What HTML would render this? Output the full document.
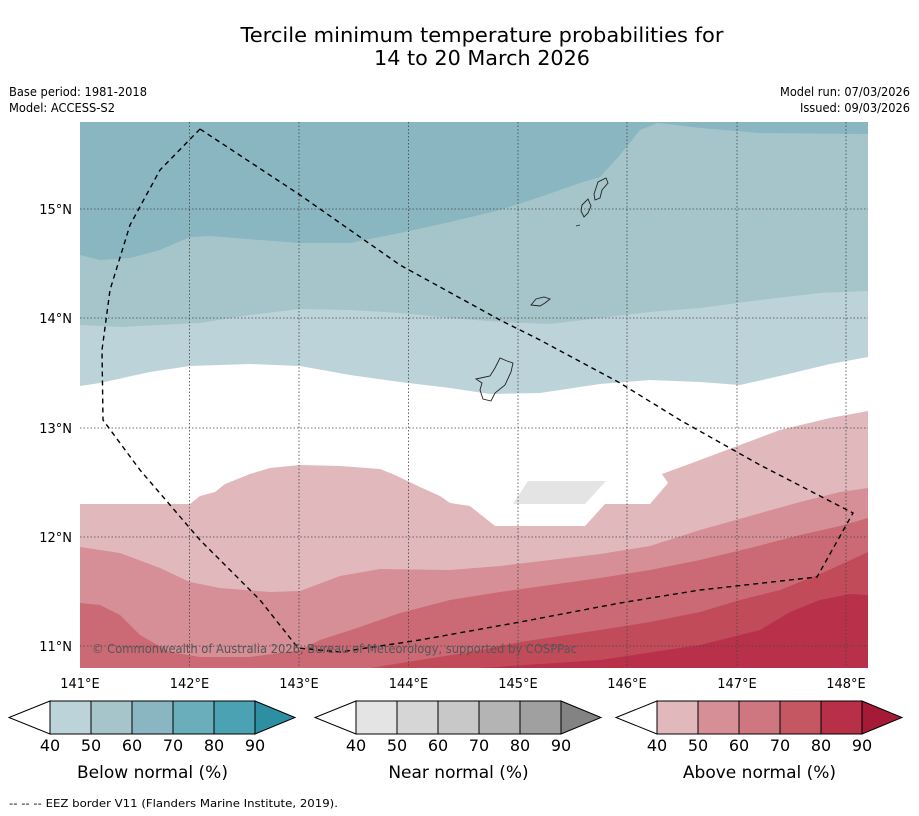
<!DOCTYPE html>
<html><head><meta charset="utf-8"><style>
body{margin:0;background:#fff;font-family:"DejaVu Sans","Liberation Sans",sans-serif}
svg{display:block}
</style></head><body>
<svg width="919" height="816" xmlns="http://www.w3.org/2000/svg">
<rect width="919" height="816" fill="#fff"/>
<text x="482" y="42" font-size="20" text-anchor="middle" textLength="483" lengthAdjust="spacingAndGlyphs">Tercile minimum temperature probabilities for</text>
<text x="482" y="65" font-size="20" text-anchor="middle" textLength="216" lengthAdjust="spacingAndGlyphs">14 to 20 March 2026</text>
<text x="9" y="96" font-size="12" textLength="138" lengthAdjust="spacingAndGlyphs">Base period: 1981-2018</text>
<text x="9" y="112" font-size="12" textLength="106" lengthAdjust="spacingAndGlyphs">Model: ACCESS-S2</text>
<text x="910" y="96" font-size="12" text-anchor="end" textLength="130" lengthAdjust="spacingAndGlyphs">Model run: 07/03/2026</text>
<text x="910" y="112" font-size="12" text-anchor="end" textLength="110" lengthAdjust="spacingAndGlyphs">Issued: 09/03/2026</text>
<defs><clipPath id="mc"><rect x="80" y="122" width="788" height="546"/></clipPath></defs>
<g clip-path="url(#mc)">
<rect x="80" y="122" width="788" height="546" fill="#fff"/>
<path fill="#bdd3da" d="M80,122 H868 V357 L830,364 780,376 740,385 700,382 650,380 600,384 540,393 490,394 450,388 400,382 350,375 300,366 250,364 190,366 150,372 100,383 80,386Z"/>
<path fill="#a6c5ca" d="M80,122 H868 V291 L820,293 760,300 700,308 650,312 600,318 550,324 500,322 450,318 400,313 350,310 300,309 250,315 200,323 120,327 80,325Z"/>
<path fill="#89b6c1" d="M80,122 H660 L640,130 620,155 600,177 580,183 540,197 500,210 450,222 400,233 350,243 300,243 260,240 210,236 190,237 160,250 130,258 100,260 80,255Z"/>
<path fill="#89b6c1" d="M650,122 H868 V134 L760,133 700,128Z"/>
<path fill="#e4e4e4" d="M513,504 L528,481 606,481 585,504Z"/>
<path fill="#e1b9bd" d="M80,504 L190,504 200,496 215,492 225,484 235,480 250,474 270,468 300,465 340,466 380,469 395,475 420,487 440,496 450,503 470,506 495,526 585,526 605,504 650,504 668,483 662,474 700,460 740,445 780,430 830,418 868,411 V668 H80Z"/>
<path fill="#d68f96" d="M80,547 L120,553 160,568 190,582 220,588 270,592 300,591 340,576 380,569 450,570 500,566 550,560 600,554 650,546 700,530 750,516 800,502 840,492 868,488 V668 H80Z"/>
<path fill="#cb6a75" d="M80,603 L100,605 120,615 140,635 170,652 200,657 250,657 300,650 320,640 360,627 400,613 450,600 500,592 550,585 600,578 650,570 700,560 750,548 800,535 840,526 868,518 V668 H80Z"/>
<path fill="#c24b5a" d="M370,668 L420,660 470,652 520,642 600,630 650,622 700,612 740,600 780,590 820,574 868,552 V668Z"/>
<path fill="#b8304a" d="M480,668 L600,660 700,645 760,630 790,612 820,600 850,594 868,595 V668Z"/>
<g stroke="#444" stroke-width="0.8" stroke-dasharray="1.5,2">
<line x1="189.5" y1="122" x2="189.5" y2="668"/><line x1="299" y1="122" x2="299" y2="668"/><line x1="408.5" y1="122" x2="408.5" y2="668"/><line x1="518" y1="122" x2="518" y2="668"/><line x1="627" y1="122" x2="627" y2="668"/><line x1="737" y1="122" x2="737" y2="668"/><line x1="846" y1="122" x2="846" y2="668"/>
<line x1="80" y1="209" x2="868" y2="209"/><line x1="80" y1="318" x2="868" y2="318"/><line x1="80" y1="428" x2="868" y2="428"/><line x1="80" y1="537" x2="868" y2="537"/><line x1="80" y1="646" x2="868" y2="646"/>
</g>
<g fill="none" stroke="#222" stroke-width="0.9">
<path d="M476,379 L490,376 495,368 500,358 507,361 513,363 511,372 505,385 495,393 491,401 483,399 480,390 482,383Z"/>
<path d="M531,305 L536,299 544,297 550,299 545,303 540,306Z"/>
<path d="M582,205 L588,199 591,206 588,213 584,217 581,211Z"/>
<path d="M594,194 L598,182 606,178 608,183 602,190 600,198 595,200Z"/>
<path d="M576,226 L580,225"/>
</g>
<path fill="none" stroke="#000" stroke-width="1.4" stroke-dasharray="5,4" d="M200,129 L160,170 130,225 110,290 102,350 103,420 140,470 200,540 260,600 298,648 340,652 420,640 520,622 620,603 700,590 817,577 853,513 760,465 680,420 620,383 540,340 500,320 400,265 300,195Z"/>
<text x="92" y="653" font-size="12" fill="#555" textLength="485" lengthAdjust="spacingAndGlyphs">© Commonwealth of Australia 2026, Bureau of Meteorology, supported by COSPPac</text>
</g>
<g font-size="13" text-anchor="end">
<text x="72" y="214">15°N</text><text x="72" y="323">14°N</text><text x="72" y="433">13°N</text><text x="72" y="542">12°N</text><text x="72" y="651">11°N</text>
</g>
<g font-size="13" text-anchor="middle">
<text x="80" y="688">141°E</text><text x="189.5" y="688">142°E</text><text x="299" y="688">143°E</text><text x="408.5" y="688">144°E</text><text x="518" y="688">145°E</text><text x="627" y="688">146°E</text><text x="737" y="688">147°E</text><text x="846" y="688">148°E</text>
</g>
<g id="cbars"></g>
<text x="9" y="807" font-size="11" textLength="329" lengthAdjust="spacingAndGlyphs">--  --  -- EEZ border V11 (Flanders Marine Institute, 2019).</text>
</svg>
<script>
const ticks=["40","50","60","70","80","90"];
const belowColors=["#bdd3da","#a6c5ca","#89b6c1","#6aadbb","#4aa2b3","#2c8fa2"];
const nearColors=["#e4e4e4","#d6d6d6","#c8c8c8","#b4b4b4","#a0a0a0","#838383"];
const aboveColors=["#e1b9bd","#d68f96","#cf7780","#c55763","#b83047","#a51a37"];
const titles=["Below normal (%)","Near normal (%)","Above normal (%)"];
const ns="http://www.w3.org/2000/svg";
const g=document.getElementById('cbars');
function mk(t,a){const e=document.createElementNS(ns,t);for(const k in a)e.setAttribute(k,a[k]);return e;}
[[belowColors,9,50],[nearColors,315,356],[aboveColors,616,657]].forEach((c,i)=>{
 const cols=c[0],x0=c[1],s=c[2],w=41,y=701,h=33;
 const grp=mk('g',{});
 
 
 const l=mk('polygon',{points:`${s},${y} ${x0},${y+h/2} ${s},${y+h}`,fill:'#fff',stroke:'#000','stroke-width':1});
 
 
 grp.appendChild(l);
 for(let j=0;j<5;j++){const r=mk('rect',{x:s+j*w,y:y,width:w,height:h,fill:cols[j],stroke:'#000','stroke-width':1});
  
  
  grp.appendChild(r);}
 const e=s+5*w;
 const rt=mk('polygon',{points:`${e},${y} ${e+40},${y+h/2} ${e},${y+h}`,fill:cols[5],stroke:'#000','stroke-width':1});
 
 
 grp.appendChild(rt);
 ticks.forEach((t,j)=>{const tx=mk('text',{x:s+j*w,y:751,'font-size':16,'text-anchor':'middle'});tx.textContent=t;
  
  
  grp.appendChild(tx);});
 const tt=mk('text',{x:s+2.5*w,y:778,'font-size':17,'text-anchor':'middle'});tt.textContent=titles[i];
 
 
 grp.appendChild(tt);
 g.appendChild(grp);
});
</script>
</body></html>
